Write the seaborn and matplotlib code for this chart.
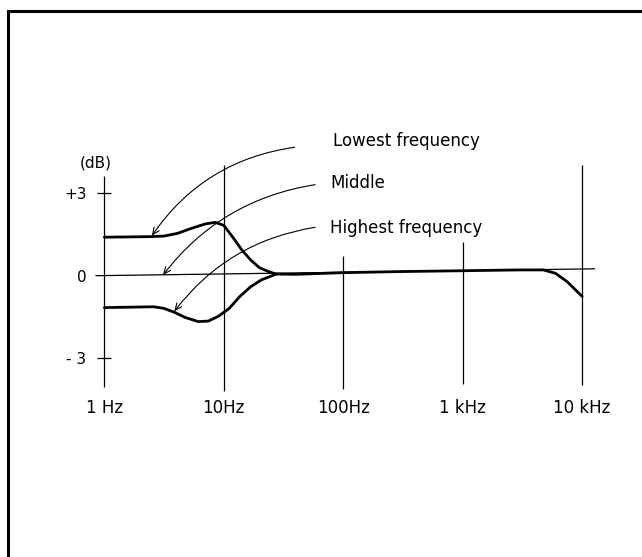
import numpy as np
import pandas as pd
import matplotlib
matplotlib.use("Agg")
import matplotlib.pyplot as plt
import seaborn as sns

sns.set_style("white")
plt.rcParams["font.family"] = ["DejaVu Sans"]
plt.rcParams["text.color"] = "black"

# curves (Hz, dB)
freq_low = [1, 2.43, 3.16, 4.11, 5.35, 6.97, 8.49, 10, 11.9, 14.2, 16.8, 19.9, 23.7, 27.2]
db_low = [1.40, 1.42, 1.44, 1.54, 1.72, 1.88, 1.94, 1.83, 1.40, 0.93, 0.57, 0.29, 0.15, 0.06]

freq_high = [1, 2.6, 3.16, 3.86, 4.70, 6.11, 7.43, 9.06, 11.1, 13.6, 16.8, 20.7, 25.4, 27.2]
db_high = [-1.16, -1.13, -1.19, -1.33, -1.51, -1.67, -1.65, -1.47, -1.19, -0.76, -0.40, -0.15, 0.0, 0.06]

freq_tail = [27.2, 40, 100, 300, 1000, 3000, 4730, 5960, 7500, 9700, 10000]
db_tail = [0.06, 0.05, 0.11, 0.15, 0.18, 0.21, 0.21, 0.09, -0.22, -0.70, -0.75]

# thin 0 dB reference line (slightly skewed in the scan)
zero_f = [0.85, 12700]
zero_db = [0.0, 0.25]

# decade markers
decades = [1, 10, 100, 1000, 10000]
decade_labels = ["1 Hz", "10Hz", "100Hz", "1 kHz", "10 kHz"]
line_top = [3.63, 4.03, 0.72, 1.24, 4.03]
line_bottom = [-4.05, -4.19, -4.12, -3.93, -3.97]

ytick_vals = [3, 0, -3]
ytick_labels = ["+3", "0", "- 3"]

labels = ["Lowest frequency", "Middle", "Highest frequency"]
label_f = [82, 77.5, 77.5]
label_db = [4.72, 3.18, 1.54]
arrow_start = [(39.2, 4.67), (58.2, 3.31), (58.2, 1.76)]
arrow_end = [(2.5, 1.45), (3.1, 0.02), (3.85, -1.3)]
arrow_rad = [0.22, 0.2, 0.2]

fig = plt.figure(figsize=(6.42, 5.57), dpi=100)
ax = fig.add_axes([0, 0, 1, 1])
ax.set_xscale("log")
ax.set_xlim(10 ** -0.873, 10 ** 4.5007)
ax.set_ylim(-10.229, 10.025)
ax.axis("off")

# frame (left and top edges only, as in the scan)
ax.plot([0.0132, 0.0132, 1.0], [0.0, 0.9794, 0.9794], transform=ax.transAxes,
        color="black", lw=2.2, solid_joinstyle="miter", clip_on=False)

ax.vlines(decades, line_bottom, line_top, color="black", lw=0.9)
ax.plot(zero_f, zero_db, color="black", lw=0.9)

# +3 / -3 tick marks on the 1 Hz line
ax.plot([1, 1], [3, -3], ls="none", marker="_", markersize=9.5, mew=0.9, color="black")

for v, t in zip(ytick_vals, ytick_labels):
    ax.text(0.71, v, t, ha="right", va="center_baseline", fontsize=11, color="black")
ax.text(0.84, 3.95, "(dB)", ha="center", va="baseline", fontsize=11, color="black")

for f, t in zip(decades, decade_labels):
    ax.text(f, -5.0, t, ha="center", va="baseline", fontsize=12, color="black")

for fx, dy in [(freq_low, db_low), (freq_high, db_high), (freq_tail, db_tail)]:
    sns.lineplot(x=fx, y=dy, ax=ax, color="black", lw=2, estimator=None, sort=False,
                 solid_joinstyle="round", solid_capstyle="round")

for t, f, d in zip(labels, label_f, label_db):
    ax.text(f, d, t, ha="left", va="baseline", fontsize=12, color="black")

for s, e, r in zip(arrow_start, arrow_end, arrow_rad):
    ax.annotate("", xy=e, xytext=s,
                arrowprops=dict(arrowstyle="->,head_length=0.5,head_width=0.22",
                                color="black", lw=0.8,
                                connectionstyle=f"arc3,rad={r}",
                                shrinkA=0, shrinkB=0))

fig.savefig("out.png", dpi=100)
